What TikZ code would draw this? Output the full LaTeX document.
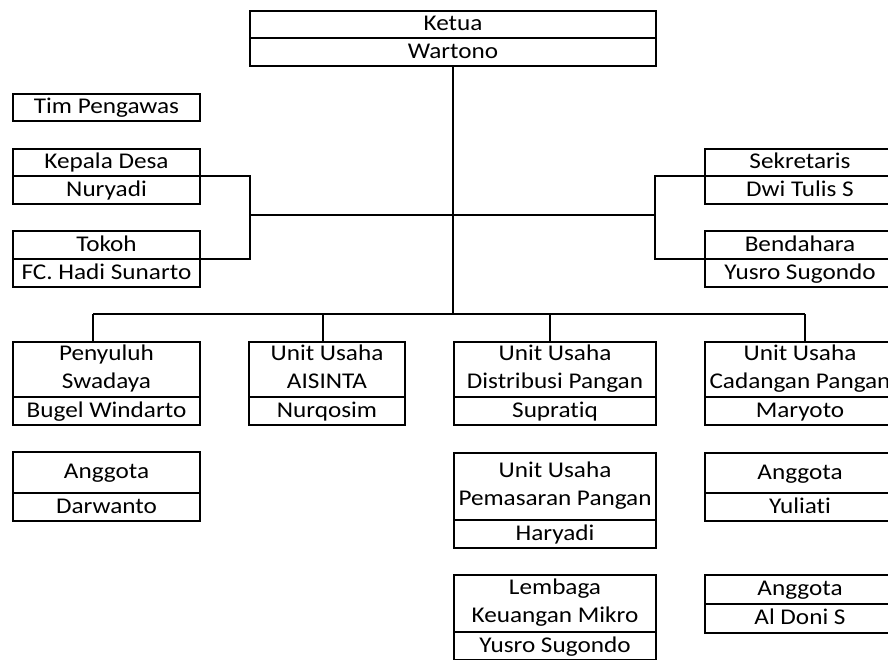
\documentclass[tikz,border=0pt]{standalone}
\usepackage{fontspec}
\setmainfont{Carlito}[FakeStretch=1.12, RawFeature={-liga;-calt;-clig;-dlig}]
\usetikzlibrary{positioning}

\tikzset{
  cell/.style={draw, line width=1.8pt, inner sep=0pt, outer sep=0pt,
    align=center, minimum width=#1, minimum height=28,
    font=\fontsize{22.5}{28}\selectfont,
    execute at begin node={\rule[-5pt]{0pt}{22pt}},
    execute at end node={\rule[-5pt]{0pt}{0pt}}},
  cell/.default=187,
  link/.style={line width=1.8pt},
}

\begin{document}
\begin{tikzpicture}[x=1pt, y=-1pt]
  \useasboundingbox (0,0) rectangle (888,659);
  \clip (0,0) rectangle (888,659);
  % ketua
  \node[cell=406, minimum height=27, anchor=north west] (ketua) at (250,11) {Ketua};%
  \node[cell=406, below=0pt of ketua] (wartono) {Wartono};%
  % kiri atas
  \node[cell, minimum height=27, anchor=north west] (pengawas) at (13,94) {Tim Pengawas};%
  \node[cell, minimum height=27, anchor=north west] (kades) at (13,149) {Kepala Desa};%
  \node[cell, below=0pt of kades] (nuryadi) {Nuryadi};%
  \node[cell, anchor=north west] (tokoh) at (13,231) {Tokoh};%
  \node[cell, below=0pt of tokoh] (hadi) {FC. Hadi Sunarto};%
  % kanan atas
  \node[cell=190, minimum height=27, anchor=north west] (sekretaris) at (705,149) {Sekretaris};%
  \node[cell=190, below=0pt of sekretaris] (dwi) {Dwi Tulis S};%
  \node[cell=190, anchor=north west] (bendahara) at (705,231) {Bendahara};%
  \node[cell=190, below=0pt of bendahara] (yusrobdh) {Yusro Sugondo};%
  % unit
  \node[cell, minimum height=55, anchor=north west] (penyuluh) at (13,342) {Penyuluh\\Swadaya};%
  \node[cell, below=0pt of penyuluh] (bugel) {Bugel Windarto};%
  \node[cell=156, minimum height=55, anchor=north west] (aisinta) at (249,342) {Unit Usaha\\AISINTA};%
  \node[cell=156, below=0pt of aisinta] (nurqosim) {Nurqosim};%
  \node[cell=202, minimum height=55, anchor=north west] (distribusi) at (454,342) {Unit Usaha\\Distribusi Pangan};%
  \node[cell=202, below=0pt of distribusi] (supratiq) {Supratiq};%
  \node[cell=190, minimum height=55, anchor=north west] (cadangan) at (705,342) {Unit Usaha\\Cadangan Pangan};%
  \node[cell=190, below=0pt of cadangan] (maryoto) {Maryoto};%
  % anggota dan unit lain
  \node[cell, minimum height=41, anchor=north west] (anggotaa) at (13,452) {Anggota};%
  \node[cell, below=0pt of anggotaa] (darwanto) {Darwanto};%
  \node[cell=202, minimum height=67, anchor=north west] (pemasaran) at (454,453) {Unit Usaha\\Pemasaran Pangan};%
  \node[cell=202, below=0pt of pemasaran] (haryadi) {Haryadi};%
  \node[cell=202, minimum height=57, anchor=north west] (lembaga) at (454,575) {Lembaga\\Keuangan Mikro};%
  \node[cell=202, below=0pt of lembaga] (yusrolkm) {Yusro Sugondo};%
  \node[cell=190, minimum height=40, anchor=north west] (anggotab) at (705,453) {Anggota};%
  \node[cell=190, below=0pt of anggotab] (yuliati) {Yuliati};%
  \node[cell=190, minimum height=29, anchor=north west] (anggotac) at (705,575) {Anggota};%
  \node[cell=190, minimum height=29, below=0pt of anggotac] (aldoni) {Al Doni S};%
  % garis
  \coordinate (midl) at (250,215);
  \coordinate (midr) at (655,215);
  \coordinate (busl) at (93,314);
  \coordinate (busb) at (323,314);
  \coordinate (busc) at (550,314);
  \coordinate (busr) at (805,314);
  \draw[link] (wartono.south) -- (wartono.south |- busl);
  \draw[link] (midl) -- (midr);
  \draw[link] (kades.south east) -| (midl) |- (tokoh.south east);
  \draw[link] (sekretaris.south west) -| (midr) |- (bendahara.south west);
  \draw[link] (busl) -- (busr);
  \draw[link] (busl) -- (busl |- penyuluh.north);
  \draw[link] (busb) -- (busb |- aisinta.north);
  \draw[link] (busc) -- (busc |- distribusi.north);
  \draw[link] (busr) -- (busr |- cadangan.north);
\end{tikzpicture}
\end{document}
